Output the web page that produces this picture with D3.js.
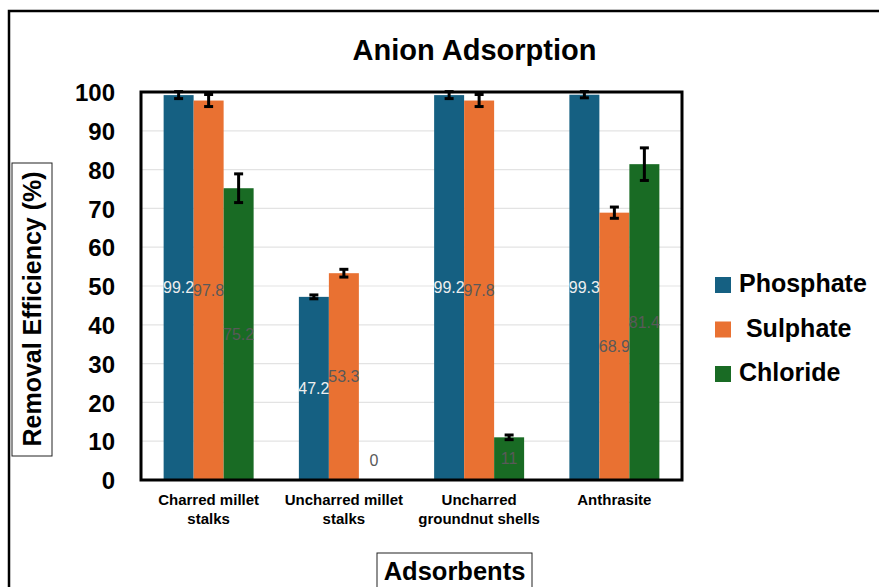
<!DOCTYPE html>
<html><head><meta charset="utf-8">
<script src="https://cdn.jsdelivr.net/npm/d3@7"></script>
<style>html,body{margin:0;padding:0;background:#fff;} svg{display:block;font-family:"Liberation Sans",Arial,sans-serif;}</style>
</head><body>
<svg id="c" width="879" height="587"></svg>
<script>
const categories = ["Charred millet stalks","Uncharred millet stalks","Uncharred groundnut shells","Anthrasite"];
const categoryLines = [["Charred millet","stalks"],["Uncharred millet","stalks"],["Uncharred","groundnut shells"],["Anthrasite"]];
const seriesNames = ["Phosphate","Sulphate","Chloride"];
const legendLabels = ["Phosphate"," Sulphate","Chloride"];
const phosphate = [99.2, 47.2, 99.2, 99.3];
const sulphate  = [97.8, 53.3, 97.8, 68.9];
const chloride  = [75.2, 0, 11, 81.4];
const phosphateErr = [0.9, 0.5, 0.9, 0.8];
const sulphateErr  = [1.55, 1.0, 1.55, 1.45];
const chlorideErr  = [3.7, 0, 0.6, 4.2];
const yTicks = [0,10,20,30,40,50,60,70,80,90,100];
const colors = ["#156082","#E97132","#196B24"];
const labelColors = ["#eeeeee","#595959","#595959"];

const values = [phosphate, sulphate, chloride];
const errs = [phosphateErr, sulphateErr, chlorideErr];

const svg = d3.select("#c");
const L = 141, R = 682, T = 92, B = 480;

const x0 = d3.scaleBand().domain(categories).range([L,R]).paddingInner(0.3346).paddingOuter(0.1673);
const x1 = d3.scaleBand().domain(seriesNames).range([0,x0.bandwidth()]).padding(0);
const y = d3.scaleLinear().domain([0,100]).range([B,T]);

// outer frame
svg.append("rect").attr("x",9).attr("y",11).attr("width",900).attr("height",600)
  .attr("fill","none").attr("stroke","#000").attr("stroke-width",2.5);

// gridlines
svg.append("g").selectAll("line").data(yTicks.filter(t=>t>0 && t<100)).join("line")
  .attr("x1",L).attr("x2",R).attr("y1",d=>y(d)).attr("y2",d=>y(d))
  .attr("stroke","#e3e3e3").attr("stroke-width",1.2);

// y axis labels
const yAxis = d3.axisLeft(y).tickValues(yTicks).tickSize(0).tickPadding(0);
const ya = svg.append("g").attr("transform",`translate(115,0)`).call(yAxis);
ya.select(".domain").remove();
ya.selectAll("text").attr("font-size",24).attr("font-weight","bold").attr("fill","#000")
  .attr("font-family","Liberation Sans, Arial, sans-serif").attr("dy","0.36em").attr("x",0);

// bars
const groups = svg.append("g").selectAll("g").data(categories).join("g")
  .attr("transform",d=>`translate(${x0(d)},0)`);
seriesNames.forEach((s,si)=>{
  groups.append("rect")
    .attr("x",x1(s)).attr("width",x1.bandwidth())
    .attr("y",(d,i)=>y(values[si][i])).attr("height",(d,i)=>B - y(values[si][i]))
    .attr("fill",colors[si]);
});
// error bars
seriesNames.forEach((s,si)=>{
  groups.each(function(d,i){
    const v = values[si][i], e = errs[si][i];
    if (v === 0 && e === 0) return;
    const g = d3.select(this);
    const cx = x1(s) + x1.bandwidth()/2;
    g.append("line").attr("x1",cx).attr("x2",cx).attr("y1",y(v+e)).attr("y2",y(v-e))
      .attr("stroke","#000").attr("stroke-width",3);
    [v+e, v-e].forEach(t=>{
      g.append("line").attr("x1",cx-4.5).attr("x2",cx+4.5).attr("y1",y(t)).attr("y2",y(t))
        .attr("stroke","#000").attr("stroke-width",3);
    });
  });
});
// data labels
seriesNames.forEach((s,si)=>{
  groups.append("text")
    .attr("x",x1(s)+x1.bandwidth()/2)
    .attr("y",(d,i)=>y(Math.max(values[si][i]/2,5)))
    .attr("dy","0.36em").attr("text-anchor","middle")
    .attr("font-size",16).attr("fill",labelColors[si])
    .text((d,i)=>values[si][i]);
});

// plot frame
svg.append("rect").attr("x",L).attr("y",T).attr("width",R-L).attr("height",B-T)
  .attr("fill","none").attr("stroke","#000").attr("stroke-width",3);

// category labels
const cl = svg.append("g").selectAll("text").data(categories).join("text")
  .attr("text-anchor","middle").attr("font-size",15).attr("font-weight","bold").attr("fill","#000")
  .attr("transform",d=>`translate(${x0(d)+x0.bandwidth()/2},505)`);
cl.each(function(d,i){
  const t = d3.select(this);
  categoryLines[i].forEach((ln,k)=>{
    t.append("tspan").attr("x",0).attr("y",k*19).text(ln);
  });
});

// title
svg.append("text").attr("x",474.5).attr("y",60).attr("text-anchor","middle")
  .attr("font-size",29).attr("font-weight","bold").text("Anion Adsorption");

// y title with box
svg.append("rect").attr("x",12).attr("y",163).attr("width",40).attr("height",293)
  .attr("fill","#fff").attr("stroke","#222").attr("stroke-width",1);
svg.append("text").attr("transform","translate(41,309) rotate(-90)").attr("text-anchor","middle")
  .attr("font-size",25).attr("font-weight","bold").text("Removal Efficiency (%)");

// x title with box
svg.append("rect").attr("x",377).attr("y",553).attr("width",155).attr("height",60)
  .attr("fill","#fff").attr("stroke","#222").attr("stroke-width",1);
svg.append("text").attr("x",454.5).attr("y",580).attr("text-anchor","middle")
  .attr("font-size",25.5).attr("font-weight","bold").text("Adsorbents");

// legend
const lg = svg.append("g").selectAll("g").data(seriesNames).join("g")
  .attr("transform",(d,i)=>`translate(715,${277 + i*44.5})`);
lg.append("rect").attr("width",16).attr("height",16).attr("fill",(d,i)=>colors[i]);
lg.append("text").attr("x",24).attr("y",15).attr("font-size",25).attr("font-weight","bold")
  .attr("xml:space","preserve").style("white-space","pre")
  .text((d,i)=>legendLabels[i]);
</script>
</body></html>
